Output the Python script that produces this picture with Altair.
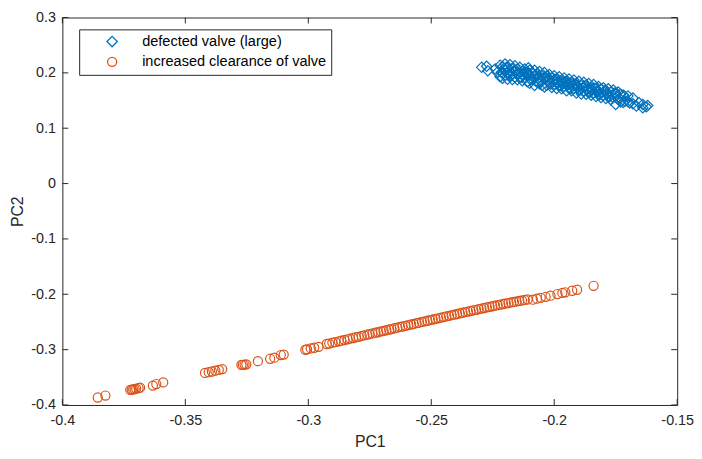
import altair as alt
import pandas as pd

series = ["defected valve (large)", "increased clearance of valve"]
colors = ["#0072BD", "#D95319"]
x_ticks = [-0.4, -0.35, -0.3, -0.25, -0.2, -0.15]
y_ticks = [-0.4, -0.3, -0.2, -0.1, 0, 0.1, 0.2, 0.3]

blue_x = [-0.2295, -0.2275, -0.2270, -0.2240, -0.2232,
          -0.2220, -0.2220, -0.2210, -0.2210, -0.2210, -0.2200, -0.2200, -0.2200,
          -0.2190, -0.2190, -0.2190, -0.2180, -0.2180, -0.2170, -0.2170, -0.2170,
          -0.2160, -0.2160, -0.2160, -0.2150, -0.2150, -0.2150, -0.2140, -0.2140,
          -0.2130, -0.2130, -0.2130, -0.2120, -0.2120, -0.2110, -0.2110, -0.2110,
          -0.2105, -0.2100, -0.2100, -0.2100, -0.2090, -0.2090, -0.2080, -0.2080,
          -0.2080, -0.2070, -0.2070, -0.2060, -0.2060, -0.2060, -0.2050, -0.2050,
          -0.2040, -0.2040, -0.2040, -0.2030, -0.2030, -0.2020, -0.2020, -0.2020,
          -0.2010, -0.2010, -0.2000, -0.2000, -0.2000, -0.1990, -0.1990, -0.1980,
          -0.1980, -0.1970, -0.1970, -0.1970, -0.1960, -0.1960, -0.1950, -0.1950,
          -0.1950, -0.1940, -0.1940, -0.1930, -0.1930, -0.1930, -0.1920, -0.1920,
          -0.1910, -0.1910, -0.1910, -0.1900, -0.1900, -0.1890, -0.1890, -0.1880,
          -0.1880, -0.1880, -0.1870, -0.1870, -0.1860, -0.1860, -0.1850, -0.1850,
          -0.1850, -0.1840, -0.1840, -0.1830, -0.1830, -0.1820, -0.1820, -0.1820,
          -0.1810, -0.1810, -0.1800, -0.1800, -0.1790, -0.1790, -0.1780, -0.1780,
          -0.1770, -0.1770, -0.1760, -0.1760, -0.1750, -0.1750, -0.1740, -0.1740,
          -0.1730, -0.1730, -0.1720, -0.1720, -0.1713, -0.1700, -0.1700, -0.1693,
          -0.1680, -0.1680, -0.1666, -0.1655, -0.1640, -0.1640, -0.1626, -0.1620,
          -0.2215, -0.2195, -0.2175, -0.2155, -0.2135, -0.2115, -0.2095, -0.2075,
          -0.2055, -0.2035, -0.2015, -0.1995, -0.1975, -0.1955, -0.1935, -0.1915,
          -0.1895, -0.1875, -0.1855, -0.1835, -0.1815, -0.1795, -0.1775, -0.1755,
          -0.1735, -0.1715, -0.2205, -0.2185, -0.2145, -0.2105, -0.2065, -0.2025,
          -0.1985, -0.1945, -0.1905, -0.1865, -0.1825, -0.1785]
blue_y = [0.210, 0.212, 0.204, 0.207, 0.201,
          0.2135, 0.1930, 0.2110, 0.1904, 0.1990, 0.2160, 0.1960, 0.2064,
          0.2105, 0.1884, 0.2003, 0.2146, 0.1942, 0.2068, 0.1880, 0.1983,
          0.2126, 0.1922, 0.2024, 0.2065, 0.1878, 0.1997, 0.2100, 0.1919,
          0.2028, 0.1858, 0.1977, 0.2069, 0.1916, 0.2008, 0.1838, 0.1974,
          0.2090, 0.2049, 0.1811, 0.1964, 0.2005, 0.1886, 0.2046, 0.1774,
          0.1944, 0.1985, 0.1832, 0.2026, 0.1805, 0.1924, 0.1948, 0.1778,
          0.2006, 0.1745, 0.1904, 0.1945, 0.1775, 0.1969, 0.1816, 0.1884,
          0.1908, 0.1738, 0.1949, 0.1796, 0.1864, 0.1888, 0.1718, 0.1929,
          0.1776, 0.1868, 0.1715, 0.1834, 0.1909, 0.1756, 0.1848, 0.1678,
          0.1814, 0.1889, 0.1736, 0.1828, 0.1675, 0.1794, 0.1869, 0.1716,
          0.1791, 0.1638, 0.1774, 0.1849, 0.1696, 0.1771, 0.1618, 0.1829,
          0.1676, 0.1744, 0.1768, 0.1615, 0.1809, 0.1656, 0.1731, 0.1595,
          0.1697, 0.1789, 0.1636, 0.1711, 0.1575, 0.1752, 0.1616, 0.1667,
          0.1708, 0.1555, 0.1732, 0.1596, 0.1671, 0.1535, 0.1712, 0.1576,
          0.1651, 0.1515, 0.1692, 0.1556, 0.1631, 0.1430, 0.1655, 0.1519,
          0.1611, 0.1475, 0.1601, 0.1465, 0.1486, 0.1581, 0.1479, 0.1456,
          0.1544, 0.1442, 0.1400, 0.1460, 0.1370, 0.1430, 0.1386, 0.1410,
          0.2010, 0.2090, 0.1950, 0.2040, 0.1920, 0.2010, 0.1870, 0.1960,
          0.1850, 0.1920, 0.1800, 0.1880, 0.1770, 0.1840, 0.1720, 0.1800,
          0.1690, 0.1760, 0.1650, 0.1720, 0.1610, 0.1680, 0.1570, 0.1630,
          0.1540, 0.1580, 0.2080, 0.1970, 0.1990, 0.1990, 0.1900, 0.1860,
          0.1820, 0.1780, 0.1740, 0.1700, 0.1660, 0.1620]

orange_x = [-0.3856, -0.3825, -0.3724, -0.3718, -0.3712, -0.3706, -0.3700, -0.3690, -0.3684,
            -0.3632, -0.3618, -0.3590, -0.3420, -0.3405, -0.3392, -0.3378, -0.3364, -0.3350,
            -0.3272, -0.3266, -0.3259, -0.3252, -0.3205, -0.3155, -0.3138, -0.3112, -0.3100,
            -0.3012, -0.3005, -0.2990, -0.2976, -0.2958,
            -0.2925, -0.2915, -0.2902, -0.2890, -0.2876, -0.2866, -0.2853, -0.2840, -0.2831,
            -0.2818, -0.2806, -0.2795, -0.2783, -0.2772, -0.2760, -0.2751, -0.2739, -0.2727,
            -0.2716, -0.2705, -0.2694, -0.2683, -0.2671, -0.2662, -0.2650, -0.2638, -0.2627,
            -0.2617, -0.2605, -0.2594, -0.2582, -0.2571, -0.2560, -0.2550, -0.2538, -0.2527,
            -0.2516, -0.2505, -0.2494, -0.2483, -0.2472, -0.2461, -0.2450, -0.2439, -0.2428,
            -0.2417, -0.2406, -0.2395, -0.2384, -0.2373, -0.2362, -0.2351, -0.2340, -0.2329,
            -0.2318, -0.2307, -0.2296, -0.2285, -0.2274, -0.2263, -0.2252, -0.2241, -0.2230,
            -0.2219, -0.2208, -0.2197, -0.2186, -0.2175, -0.2164, -0.2153, -0.2142, -0.2131,
            -0.2120, -0.2108,
            -0.2087, -0.2070, -0.2055, -0.2035, -0.2015, -0.1987, -0.1967, -0.1955, -0.1927,
            -0.1907, -0.1840]
orange_y = [-0.3865, -0.3830, -0.3726, -0.3722, -0.3718, -0.3712, -0.3704, -0.3694, -0.3688,
            -0.3650, -0.3622, -0.3592, -0.3420, -0.3408, -0.3395, -0.3380, -0.3366, -0.3352,
            -0.3276, -0.3274, -0.3270, -0.3266, -0.3208, -0.3165, -0.3146, -0.3098, -0.3090,
            -0.3002, -0.2995, -0.2978, -0.2966, -0.2950,
            -0.2898, -0.2890, -0.2874, -0.2866, -0.2850, -0.2838, -0.2826, -0.2814, -0.2800,
            -0.2790, -0.2776, -0.2768, -0.2752, -0.2744, -0.2728, -0.2720, -0.2708, -0.2694,
            -0.2686, -0.2670, -0.2662, -0.2650, -0.2636, -0.2628, -0.2614, -0.2604, -0.2590,
            -0.2582, -0.2570, -0.2558, -0.2546, -0.2536, -0.2522, -0.2514, -0.2500, -0.2490,
            -0.2478, -0.2468, -0.2456, -0.2444, -0.2434, -0.2422, -0.2412, -0.2400, -0.2390,
            -0.2378, -0.2368, -0.2356, -0.2346, -0.2334, -0.2324, -0.2312, -0.2302, -0.2290,
            -0.2280, -0.2270, -0.2258, -0.2248, -0.2238, -0.2226, -0.2216, -0.2206, -0.2196,
            -0.2186, -0.2176, -0.2166, -0.2158, -0.2148, -0.2138, -0.2130, -0.2120, -0.2112,
            -0.2102, -0.2094,
            -0.2098, -0.2080, -0.2064, -0.2046, -0.2026, -0.1996, -0.1976, -0.1964, -0.1936,
            -0.1918, -0.1847]

W, H = 622, 392
INK = "#262626"
FONT = "Liberation Sans"

df = pd.concat([
    pd.DataFrame({"PC1": blue_x, "PC2": blue_y, "series": series[0]}),
    pd.DataFrame({"PC1": orange_x, "PC2": orange_y, "series": series[1]}),
], ignore_index=True)

xscale = alt.Scale(domain=[-0.4, -0.15], nice=False, zero=False)
yscale = alt.Scale(domain=[-0.4, 0.3], nice=False, zero=False)

x_axis = alt.Axis(values=x_ticks, format=".2~f", labelExpr="replace(datum.label, '−', '-')",
                  ticks=False, domain=False, grid=False, labelFlush=False,
                  labelPadding=9, title="PC1", titlePadding=7)
y_axis = alt.Axis(values=y_ticks, format=".1~f", labelExpr="replace(datum.label, '−', '-')",
                  ticks=False, domain=False, grid=False, labelFlush=False,
                  labelPadding=7, title="PC2", titlePadding=5)

legend = alt.Legend(
    title=None, orient="none", legendX=17, legendY=12,
    strokeColor=INK, fillColor="white", padding=5,
    symbolOffset=21, labelOffset=23, rowPadding=3.5, labelLimit=0,
    labelFont=FONT, labelFontSize=14.7, labelColor="#000000",
    symbolSize=60, symbolStrokeWidth=1.3, symbolFillColor="transparent",
)

points = alt.Chart(df).mark_point(filled=False, strokeWidth=1.2, opacity=1).encode(
    x=alt.X("PC1:Q", scale=xscale, axis=x_axis),
    y=alt.Y("PC2:Q", scale=yscale, axis=y_axis),
    color=alt.Color("series:N", scale=alt.Scale(domain=series, range=colors), legend=legend),
    shape=alt.Shape("series:N", scale=alt.Scale(domain=series, range=["diamond", "circle"]), legend=legend),
    size=alt.Size("series:N", scale=alt.Scale(domain=series, range=[110, 85]), legend=None),
)

xt = pd.DataFrame({"v": x_ticks})
yt = pd.DataFrame({"v": y_ticks})
tick_len = 6
bottom = alt.Chart(xt).mark_rule(color=INK, strokeWidth=1).encode(
    x=alt.X("v:Q", scale=xscale, axis=x_axis), y=alt.value(H - tick_len), y2=alt.value(H))
top = alt.Chart(xt).mark_rule(color=INK, strokeWidth=1).encode(
    x=alt.X("v:Q", scale=xscale, axis=x_axis), y=alt.value(0), y2=alt.value(tick_len))
left = alt.Chart(yt).mark_rule(color=INK, strokeWidth=1).encode(
    y=alt.Y("v:Q", scale=yscale, axis=y_axis), x=alt.value(0), x2=alt.value(tick_len))
right = alt.Chart(yt).mark_rule(color=INK, strokeWidth=1).encode(
    y=alt.Y("v:Q", scale=yscale, axis=y_axis), x=alt.value(W - tick_len), x2=alt.value(W))

chart = alt.layer(points, bottom, top, left, right).properties(
    width=W, height=H,
    autosize=alt.AutoSizeParams(type="none"),
    padding={"left": 55, "top": 7, "right": 17, "bottom": 50},
).configure_view(
    stroke=INK, strokeWidth=1
).configure_axis(
    labelFont=FONT, labelFontSize=14.5, labelColor=INK,
    titleFont=FONT, titleFontSize=16, titleColor=INK, titleFontWeight="normal",
)

chart.save("out.html", embed_options={"renderer": "svg", "actions": False})
